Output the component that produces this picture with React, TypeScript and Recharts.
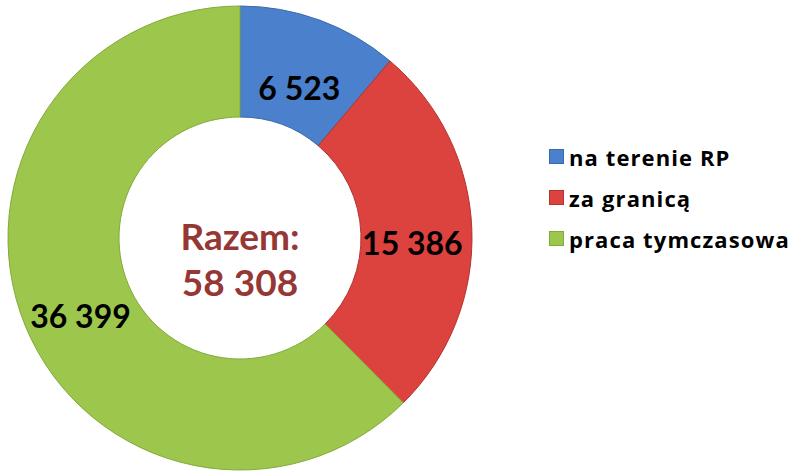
import { PieChart, Pie, Cell } from "recharts";

const categories = ["na terenie RP", "za granicą", "praca tymczasowa"];
const values = [6523, 15386, 36399];
const colors = ["#4a80cc", "#dc423e", "#9cc74c"];
const strokes = ["#3a6aa8", "#b33431", "#82aa3a"];
const totalLabel = "Razem:";
const totalValue = "58 308";

const data = categories.map((name, i) => ({ name, value: values[i] }));

const fmt = (v: number) => v.toLocaleString("en-US").replace(/,/g, " ");

const RADIAN = Math.PI / 180;
const FONT = "Lato, 'Open Sans', sans-serif";

function renderLabel(props: any) {
  const { cx, cy, midAngle, innerRadius, outerRadius, value } = props;
  const r = (innerRadius + outerRadius) / 2 - 4;
  const x = cx + r * Math.cos(-midAngle * RADIAN);
  const y = cy + r * Math.sin(-midAngle * RADIAN);
  return (
    <text
      x={x}
      y={y + 24}
      textAnchor="middle"
      fill="#000"
      fontSize={32}
      fontWeight="bold"
      fontFamily={FONT}
    >
      {fmt(value)}
    </text>
  );
}

function LegendBox() {
  return (
    <div style={{ position: "absolute", left: 549, top: 136, fontFamily: "'Open Sans', sans-serif" }}>
      {categories.map((c, i) => (
        <div
          key={c}
          style={{
            display: "flex",
            alignItems: "center",
            height: 41,
            fontSize: 22,
            fontWeight: "bold",
            letterSpacing: 1.1,
            color: "#000",
          }}
        >
          <span
            style={{
              width: 13,
              height: 13,
              background: colors[i],
              border: `1px solid ${strokes[i]}`,
              marginRight: 5,
              display: "inline-block",
            }}
          />
          {c}
        </div>
      ))}
    </div>
  );
}

export default function App() {
  return (
    <div style={{ position: "absolute", left: 0, top: 0, width: 798, height: 476, background: "#fff" }}>
      <PieChart width={798} height={476} margin={{ top: 0, right: 0, bottom: 0, left: 0 }}>
        <Pie
          data={data}
          dataKey="value"
          nameKey="name"
          cx={240}
          cy={238}
          innerRadius={121}
          outerRadius={232}
          startAngle={90}
          endAngle={-270}
          isAnimationActive={false}
          label={renderLabel}
          labelLine={false}
        >
          {data.map((_, i) => (
            <Cell key={i} fill={colors[i]} stroke={strokes[i]} strokeWidth={1} />
          ))}
        </Pie>
        <text x={240} y={250} textAnchor="middle" fill="#953735" fontSize={37} fontWeight="bold" fontFamily={FONT}>
          {totalLabel}
        </text>
        <text x={240} y={296} textAnchor="middle" fill="#953735" fontSize={37} fontWeight="bold" fontFamily={FONT}>
          {totalValue}
        </text>
      </PieChart>
      <LegendBox />
    </div>
  );
}
